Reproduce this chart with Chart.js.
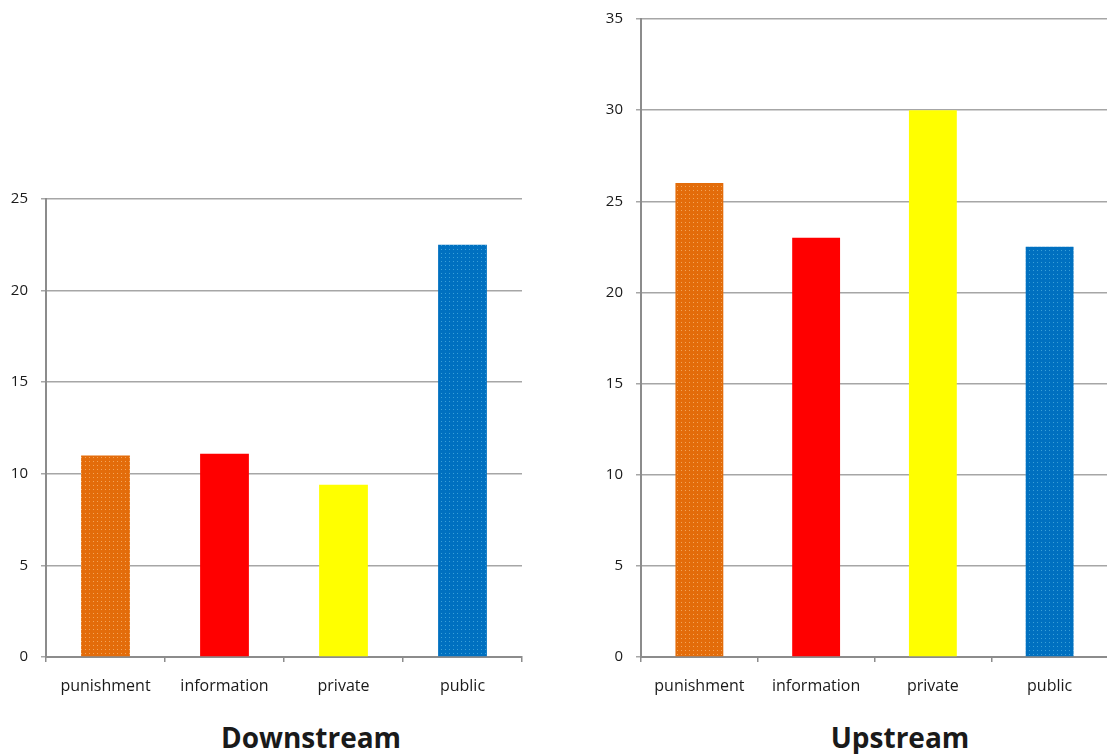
<!DOCTYPE html>
<html>
<head>
<meta charset="utf-8">
<script src="https://cdn.jsdelivr.net/npm/chart.js@4/dist/chart.umd.min.js"></script>
<style>
    html, body { margin: 0; padding: 0; background: #fff; overflow: hidden; width: 1107px; height: 754px; }
    .panel { position: absolute; }
    .caption {
        position: absolute;
        top: 721px;
        transform: translateX(-50%);
        font: bold 28px "Open Sans", sans-serif;
        line-height: 32px;
        color: #1a1a1a;
        white-space: nowrap;
    }
</style>
</head>
<body>
<div class="panel" style="left:0px; top:0px"><canvas id="downChart" width="540" height="700"></canvas></div>
<div class="panel" style="left:580px; top:-3px"><canvas id="upChart" width="540" height="703"></canvas></div>
<div class="caption" style="left:311px">Downstream</div>
<div class="caption" style="left:900px">Upstream</div>
<script>
// Sanction categories shared by both panels
const categories = ['punishment', 'information', 'private', 'public'];

// Values per panel
const downstreamValues = [11, 11.1, 9.4, 22.5];
const upstreamValues = [26, 23, 30, 22.5];

// Axis ranges
const downstreamMax = 25;
const upstreamMax = 35;
const tickStep = 5;

/**
 * Small dotted fill, like the textured bars of an office chart
 */
function dottedPattern(base, dot) {
    const c = document.createElement('canvas');
    c.width = 4;
    c.height = 4;
    const g = c.getContext('2d');
    g.fillStyle = base;
    g.fillRect(0, 0, 4, 4);
    g.fillStyle = dot;
    g.fillRect(1, 1, 1, 1);
    return g.createPattern(c, 'repeat');
}

const barColors = [
    dottedPattern('#e36c0a', '#f3a55a'),
    '#ff0000',
    '#ffff00',
    dottedPattern('#0070c0', '#3aa0d8')
];

const yFont = { family: 'Open Sans', size: 15 };
const xFont = { family: 'Open Sans', size: 16 };

/**
 * Build one bar panel with a fixed plot box
 */
function createPanel(canvasId, values, yMax, padTop, padRight, axisWidth) {
    const ctx = document.getElementById(canvasId);
    return new Chart(ctx, {
        type: 'bar',
        data: {
            labels: categories,
            datasets: [{
                data: values,
                backgroundColor: barColors,
                borderWidth: 0,
                barPercentage: 0.41,
                categoryPercentage: 1
            }]
        },
        options: {
            responsive: false,
            animation: false,
            layout: {
                padding: { top: padTop, right: padRight, left: 0, bottom: 0 }
            },
            scales: {
                x: {
                    grid: {
                        offset: true,
                        drawOnChartArea: false,
                        drawTicks: true,
                        tickLength: 5,
                        color: '#8c8c8c',
                        lineWidth: 1.5
                    },
                    border: { color: '#8c8c8c', width: 2 },
                    ticks: { font: xFont, color: '#1a1a1a', padding: 15, maxRotation: 0 },
                    afterFit: function(scale) { scale.height = 43; }
                },
                y: {
                    min: 0,
                    max: yMax,
                    ticks: { stepSize: tickStep, font: yFont, color: '#1a1a1a', padding: 13 },
                    grid: {
                        color: '#a6a6a6',
                        lineWidth: 1.5,
                        tickLength: 5,
                        drawTicks: true
                    },
                    border: { color: '#8c8c8c', width: 2 },
                    afterFit: function(scale) { scale.width = axisWidth; }
                }
            },
            plugins: {
                legend: { display: false },
                title: { display: false },
                tooltip: { enabled: false }
            }
        }
    });
}

createPanel('downChart', downstreamValues, downstreamMax, 199, 18, 46);
createPanel('upChart', upstreamValues, upstreamMax, 16, 12, 61);
</script>
</body>
</html>
